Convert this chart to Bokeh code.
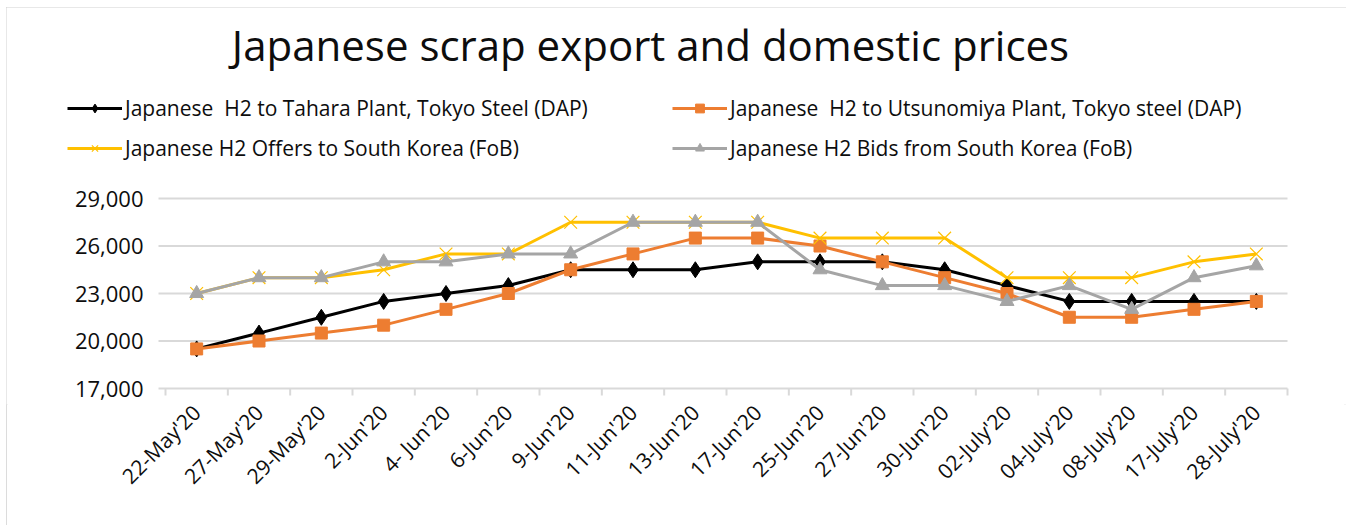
import math
from bokeh.plotting import figure
from bokeh.models import (Range1d, FixedTicker, Legend, LegendItem, Label,
                          ColumnDataSource)
from bokeh.core.properties import value
from bokeh.embed import file_html
from bokeh.resources import INLINE

title_text = "Japanese scrap export and domestic prices"

dates = ["22-May'20", "27-May'20", "29-May'20", "2-Jun'20", "4- Jun'20", "6-Jun'20",
         "9-Jun'20", "11-Jun'20", "13-Jun'20", "17-Jun'20", "25-Jun'20", "27-Jun'20",
         "30-Jun'20", "02-July'20", "04-July'20", "08-July'20", "17-July'20", "28-July'20"]
tahara = [19500, 20500, 21500, 22500, 23000, 23500, 24500, 24500, 24500, 25000, 25000,
          25000, 24500, 23500, 22500, 22500, 22500, 22500]
utsunomiya = [19500, 20000, 20500, 21000, 22000, 23000, 24500, 25500, 26500, 26500, 26000,
              25000, 24000, 23000, 21500, 21500, 22000, 22500]
offers = [23000, 24000, 24000, 24500, 25500, 25500, 27500, 27500, 27500, 27500, 26500,
          26500, 26500, 24000, 24000, 24000, 25000, 25500]
bids = [23000, 24000, 24000, 25000, 25000, 25500, 25500, 27500, 27500, 27500, 24500,
        23500, 23500, 22500, 23500, 22000, 24000, 24750]
y_ticks = [17000, 20000, 23000, 26000, 29000]

series_names = ["Japanese  H2 to Tahara Plant, Tokyo Steel (DAP)",
                "Japanese  H2 to Utsunomiya Plant, Tokyo steel (DAP)",
                "Japanese H2 Offers to South Korea (FoB)",
                "Japanese H2 Bids from South Korea (FoB)"]

# ---- layout constants (pixels) ----
W, H = 1340, 518
PLOT_L, PLOT_R = 159, 1281       # plot-area edges inside the figure
PLOT_T, PLOT_B = 191, 381
PAD_B = 16                       # room below the axis line for the "17,000" label
n = len(dates)
slot = (PLOT_R - PLOT_L) / n
yscale = (y_ticks[-1] - y_ticks[0]) / (PLOT_B - PLOT_T)
x_lo = -PLOT_L / slot
x_hi = n + (W - PLOT_R) / slot
y_hi = y_ticks[-1] + PLOT_T * yscale
y_lo = y_ticks[0] - PAD_B * yscale

centers = [i + 0.5 for i in range(n)]
edges = [float(i) for i in range(n + 1)]

src = ColumnDataSource(dict(x=centers, tahara=tahara, utsunomiya=utsunomiya,
                            offers=offers, bids=bids))

FONT = "Open Sans"
GRID = "#D9D9D9"
TXT = "#0d0d0d"

p = figure(width=W, height=H, output_backend="svg", toolbar_location=None,
           x_range=Range1d(x_lo, x_hi), y_range=Range1d(y_lo, y_hi),
           min_border_left=0, min_border_right=0, min_border_top=0,
           min_border_bottom=H - PLOT_B - PAD_B)
p.outline_line_color = None
p.styles = {"margin-left": "6px", "margin-top": "7px",
            "outline": "2px solid #D0D0D0", "outline-offset": "-2px"}
p.grid.visible = False
p.yaxis.visible = False

# horizontal gridlines (the 17,000 one doubles as the category axis line)
p.segment(x0=-7 / slot, x1=n, y0=y_ticks, y1=y_ticks, line_color=GRID,
          line_width=2, level="underlay")
# category tick marks between the slots
p.segment(x0=edges, x1=edges, y0=[y_ticks[0]] * len(edges),
          y1=[y_ticks[0] - 7 * yscale] * len(edges), line_color=GRID, line_width=2,
          level="underlay")
# value labels
p.text(x=[0] * len(y_ticks), y=y_ticks, text=[f"{v:,}" for v in y_ticks],
       x_offset=-22, text_align="right", text_baseline="middle",
       text_font=value(FONT), text_font_size="22px", text_color=TXT)

# category labels at slot centres
xa = p.xaxis[0]
xa.ticker = FixedTicker(ticks=centers)
xa.major_label_overrides = {c: d for c, d in zip(centers, dates)}
xa.axis_line_color = None
xa.major_tick_line_color = None
xa.minor_tick_line_color = None
xa.major_tick_out = 0
xa.major_tick_in = 0
xa.major_label_orientation = math.pi / 4
xa.major_label_standoff = 4
xa.major_label_text_font = FONT
xa.major_label_text_font_size = "21px"
xa.major_label_text_color = TXT

# series
l1 = p.line("x", "tahara", source=src, line_color="black", line_width=3)
s1 = p.scatter("x", "tahara", source=src, marker="diamond", size=16,
               fill_color="black", line_color="black")
l2 = p.line("x", "utsunomiya", source=src, line_color="#ED7D31", line_width=3)
s2 = p.scatter("x", "utsunomiya", source=src, marker="square", size=12,
               fill_color="#ED7D31", line_color="#ED7D31")
l3 = p.line("x", "offers", source=src, line_color="#FFC000", line_width=3)
s3 = p.scatter("x", "offers", source=src, marker="x", size=18,
               line_color="#FFC000", line_width=1.2)
l4 = p.line("x", "bids", source=src, line_color="#A5A5A5", line_width=3)
s4 = p.scatter("x", "bids", source=src, marker="triangle", size=14,
               fill_color="#A5A5A5", line_color="#A5A5A5")

legend = Legend(items=[LegendItem(label=series_names[0], renderers=[l1, s1]),
                       LegendItem(label=series_names[1], renderers=[l2, s2]),
                       LegendItem(label=series_names[2], renderers=[l3, s3]),
                       LegendItem(label=series_names[3], renderers=[l4, s4])],
                location=(61, 226 + PAD_B), orientation="horizontal", ncols=2,
                padding=0, margin=0, spacing=12,
                glyph_width=55, glyph_height=22, label_height=22, label_width=535,
                label_standoff=3, label_text_font=FONT, label_text_font_size="21px",
                label_text_color=TXT,
                border_line_color=None, background_fill_alpha=0)
p.add_layout(legend)

p.add_layout(Label(x=644, y=344 + PAD_B, x_units="screen", y_units="screen",
                   text=title_text, text_align="center", text_baseline="alphabetic",
                   text_font=FONT, text_font_size="42px", text_color=TXT))

open("out.html", "w").write(file_html(p, INLINE))
